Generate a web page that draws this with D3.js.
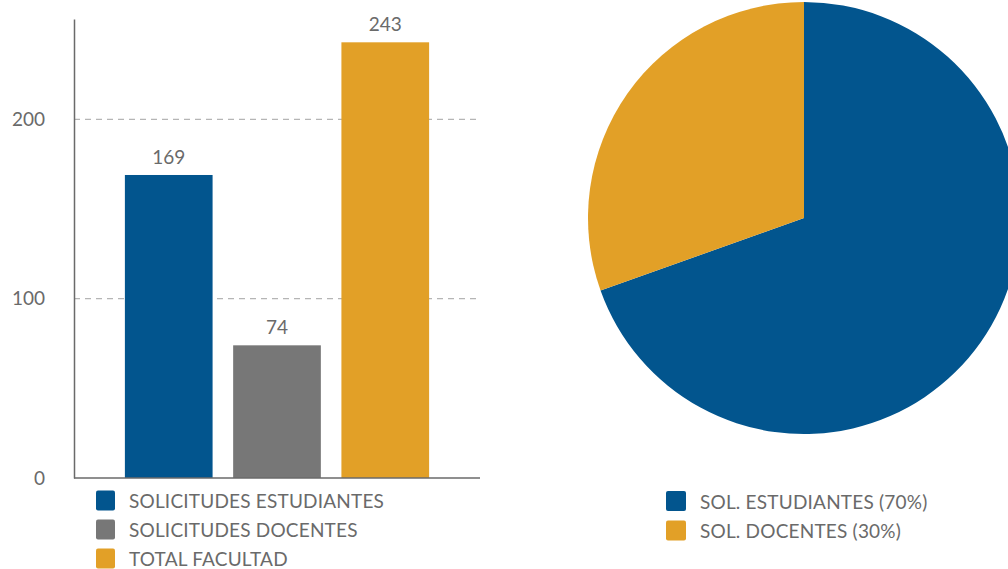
<!DOCTYPE html>
<html>
<head>
<meta charset="utf-8">
<script src="https://cdnjs.cloudflare.com/ajax/libs/d3/7.8.5/d3.min.js"></script>
<style>
  html, body { margin: 0; padding: 0; background: #fff; }
  svg text { font-family: Lato, "Open Sans", sans-serif; fill: #6a6a6a; }
</style>
</head>
<body>
<svg id="chart" width="1008" height="569"></svg>
<script>
// bar chart data
const barCategories = ["SOLICITUDES ESTUDIANTES", "SOLICITUDES DOCENTES", "TOTAL FACULTAD"];
const barValues = [169, 74, 243];
const barColors = ["#02558e", "#777777", "#e2a027"];
const yTicks = [0, 100, 200];

// pie chart data
const pieLabels = ["SOL. ESTUDIANTES (70%)", "SOL. DOCENTES (30%)"];
const pieValues = [169, 74];
const pieColors = ["#02558e", "#e2a027"];

const svg = d3.select("#chart");

// ---- bar chart ----
const x = d3.scaleBand()
  .domain(barCategories)
  .range([74, 480])
  .paddingInner(0.19)
  .paddingOuter(0.47);

const y = d3.scaleLinear()
  .domain([0, 256])
  .range([478, 19]);

// dashed gridlines
svg.append("g")
  .selectAll("line")
  .data(yTicks.filter(d => d > 0))
  .join("line")
  .attr("x1", 74)
  .attr("x2", 480)
  .attr("y1", d => y(d))
  .attr("y2", d => y(d))
  .attr("stroke", "#b5b5b5")
  .attr("stroke-width", 1.2)
  .attr("stroke-dasharray", "6,5");

svg.append("g")
  .selectAll("rect")
  .data(barValues)
  .join("rect")
  .attr("x", (d, i) => x(barCategories[i]))
  .attr("y", d => y(d))
  .attr("width", x.bandwidth())
  .attr("height", d => y(0) - y(d))
  .attr("fill", (d, i) => barColors[i]);

svg.append("g")
  .selectAll("text")
  .data(barValues)
  .join("text")
  .attr("x", (d, i) => x(barCategories[i]) + x.bandwidth() / 2)
  .attr("y", d => y(d) - 11)
  .attr("text-anchor", "middle")
  .attr("font-size", 19)
  .text(d => d);

// y axis
const yAxis = svg.append("g")
  .attr("transform", "translate(74,0)")
  .call(d3.axisLeft(y).tickValues(yTicks).tickSize(0).tickPadding(29));
yAxis.select(".domain").attr("stroke", "#6a6a6a").attr("stroke-width", 1.5);
yAxis.selectAll("text").attr("font-size", 19).attr("fill", "#6a6a6a");

// x baseline
svg.append("line")
  .attr("x1", 74).attr("x2", 480)
  .attr("y1", y(0)).attr("y2", y(0))
  .attr("stroke", "#6a6a6a")
  .attr("stroke-width", 1.5);

// bar legend
const barLegend = svg.append("g").selectAll("g")
  .data(barCategories)
  .join("g")
  .attr("transform", (d, i) => `translate(96,${490.5 + i * 29})`);
barLegend.append("rect")
  .attr("width", 19).attr("height", 20).attr("rx", 2)
  .attr("fill", (d, i) => barColors[i]);
barLegend.append("text")
  .attr("x", 33).attr("y", 10.5)
  .attr("dy", "0.36em")
  .attr("font-size", 19)
  .attr("letter-spacing", 0.2)
  .text(d => d);

// ---- pie chart ----
const pie = d3.pie().sort(null)(pieValues);
const arc = d3.arc().innerRadius(0).outerRadius(216);

svg.append("g")
  .attr("transform", "translate(804,218)")
  .selectAll("path")
  .data(pie)
  .join("path")
  .attr("d", arc)
  .attr("fill", (d, i) => pieColors[i]);

const pieLegend = svg.append("g").selectAll("g")
  .data(pieLabels)
  .join("g")
  .attr("transform", (d, i) => `translate(666,${491 + i * 29.5})`);
pieLegend.append("rect")
  .attr("width", 20).attr("height", 20).attr("rx", 2)
  .attr("fill", (d, i) => pieColors[i]);
pieLegend.append("text")
  .attr("x", 34).attr("y", 11)
  .attr("dy", "0.36em")
  .attr("font-size", 19)
  .attr("letter-spacing", 0.2)
  .text(d => d);
</script>
</body>
</html>
